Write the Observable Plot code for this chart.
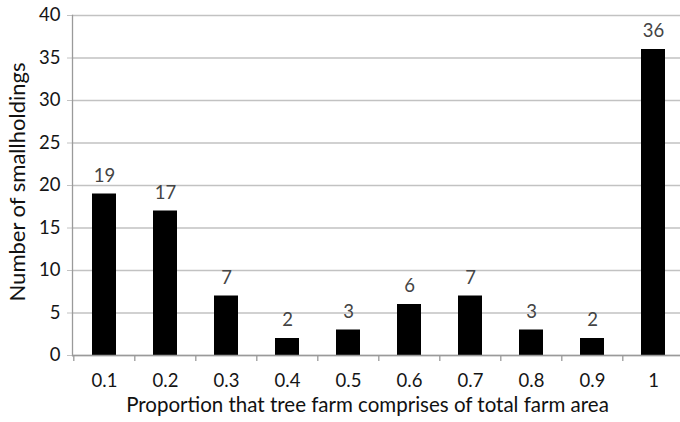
<!DOCTYPE html>
<html>
<head>
<meta charset="utf-8">
<script src="https://cdn.jsdelivr.net/npm/d3@7"></script>
<script src="https://cdn.jsdelivr.net/npm/@observablehq/plot@0.6"></script>
<style>
  html, body { margin: 0; padding: 0; background: #fff; }
  svg { display: block; }
</style>
</head>
<body>
<div id="chart"></div>
<script>
// Share of the farm taken up by the tree farm, in tenths
const categories = ["0.1", "0.2", "0.3", "0.4", "0.5", "0.6", "0.7", "0.8", "0.9", "1"];
// Number of smallholdings in each class
const counts = [19, 17, 7, 2, 3, 6, 7, 3, 2, 36];
const yTicks = [0, 5, 10, 15, 20, 25, 30, 35, 40];
const xTitle = "Proportion that tree farm comprises of total farm area";
const yTitle = "Number of smallholdings";

const data = categories.map((c, i) => ({category: c, count: counts[i]}));

const width = 680, height = 422;
const marginLeft = 72, marginRight = -6, marginTop = 15, marginBottom = 67;
const step = (width - marginLeft - marginRight) / categories.length;
const font = "Lato, 'Open Sans', sans-serif";

const chart = Plot.plot({
  width, height, marginLeft, marginRight, marginTop, marginBottom,
  style: {fontFamily: font, background: "#fff"},
  x: {type: "band", domain: categories, paddingInner: 0.6, paddingOuter: 0.3, axis: null},
  y: {domain: [0, 40], axis: null},
  marks: [
    Plot.gridY(yTicks, {stroke: "#c2c2c2", strokeOpacity: 1, strokeWidth: 1.3}),
    Plot.axisY(yTicks, {tickSize: 5, tickPadding: 7, fontSize: 18.5, fill: "#151515", stroke: "#c2c2c2", strokeOpacity: 1, label: null}),
    Plot.barY(data, {x: "category", y: "count", fill: "#000"}),
    Plot.text(data, {x: "category", y: "count", text: d => String(d.count), dy: -18, fill: "#444", fontSize: 18.5}),
    Plot.ruleY([0], {stroke: "#9a9a9a", strokeWidth: 1.3}),
    Plot.frame({anchor: "left", stroke: "#9a9a9a", strokeWidth: 1.3}),
    Plot.axisX({tickSize: 6, dx: -step / 2, tickFormat: () => "", stroke: "#9a9a9a", strokeWidth: 1.3, label: null}),
    Plot.axisX({tickSize: 0, tickPadding: 18, fontSize: 18.5, fill: "#151515", label: null}),
    Plot.text([xTitle], {frameAnchor: "bottom", text: d => d, dy: 56, dx: -12, fontSize: 20.5, fill: "#111"}),
    Plot.text([yTitle], {frameAnchor: "left", textAnchor: "middle", text: d => d, rotate: -90, dx: -55, dy: -3.5, fontSize: 22, fill: "#111"})
  ]
});

document.getElementById("chart").append(chart);
</script>
</body>
</html>
